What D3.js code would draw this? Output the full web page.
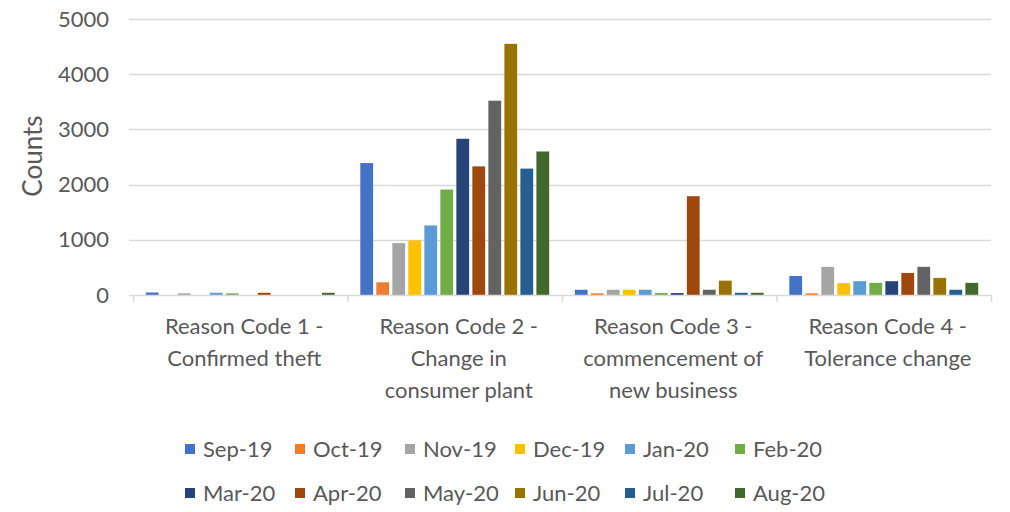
<!DOCTYPE html>
<html>
<head>
<meta charset="utf-8">
<script src="https://cdn.jsdelivr.net/npm/d3@7"></script>
<style>
  body { margin: 0; background: #fff; }
  svg text { font-family: Lato, "Open Sans", sans-serif; fill: #595959; }
</style>
</head>
<body>
<svg id="chart" width="1010" height="512"></svg>
<script>
// data ************************************************************
var categories = [
  ["Reason Code 1 -", "Confirmed theft"],
  ["Reason Code 2 -", "Change in", "consumer plant"],
  ["Reason Code 3 -", "commencement of", "new business"],
  ["Reason Code 4 -", "Tolerance change"]
];
var months = ["Sep-19", "Oct-19", "Nov-19", "Dec-19", "Jan-20", "Feb-20",
              "Mar-20", "Apr-20", "May-20", "Jun-20", "Jul-20", "Aug-20"];
var colors = ["#4472C4", "#ED7D31", "#A5A5A5", "#FFC000", "#5B9BD5", "#70AD47",
              "#264478", "#9E480E", "#636363", "#997300", "#255E91", "#43682B"];

// one array per month, one value per reason code
var sep19 = [45, 2390, 95, 345];
var oct19 = [0, 230, 30, 30];
var nov19 = [30, 940, 95, 510];
var dec19 = [0, 990, 95, 215];
var jan20 = [40, 1260, 95, 250];
var feb20 = [30, 1910, 35, 220];
var mar20 = [0, 2830, 35, 250];
var apr20 = [40, 2330, 1790, 400];
var may20 = [0, 3520, 95, 510];
var jun20 = [0, 4550, 260, 310];
var jul20 = [0, 2290, 40, 95];
var aug20 = [40, 2600, 40, 220];
var series = [sep19, oct19, nov19, dec19, jan20, feb20, mar20, apr20, may20, jun20, jul20, aug20];

var yTicks = [0, 1000, 2000, 3000, 4000, 5000];

// layout ************************************************************
var plotLeft = 133, plotRight = 991, plotTop = 19, plotBottom = 295;
var fontSize = 22;

var svg = d3.select("#chart");

var x0 = d3.scaleBand()
  .domain(d3.range(categories.length))
  .range([plotLeft, plotRight]);

var x1 = d3.scaleBand()
  .domain(d3.range(months.length))
  .range([0, x0.bandwidth()])
  .paddingInner(0.2)
  .paddingOuter(0.8);

var y = d3.scaleLinear()
  .domain([0, 5000])
  .range([plotBottom, plotTop]);

// gridlines
svg.append("g")
  .selectAll("line")
  .data(yTicks.slice(1))
  .enter()
  .append("line")
  .attr("x1", plotLeft - 4)
  .attr("x2", plotRight)
  .attr("y1", function(d) { return Math.round(y(d)) + 0.5; })
  .attr("y2", function(d) { return Math.round(y(d)) + 0.5; })
  .attr("stroke", "#d9d9d9")
  .attr("stroke-width", 1.5);

// y axis labels
var yAxis = svg.append("g")
  .attr("transform", "translate(" + plotLeft + ",0)")
  .call(d3.axisLeft(y).tickValues(yTicks).tickFormat(d3.format("d")).tickSize(0).tickPadding(24));
yAxis.select(".domain").remove();
yAxis.selectAll("text")
  .style("font-size", fontSize + "px")
  .attr("font-family", null)
  .attr("fill", null);

// bars
var groups = svg.append("g")
  .selectAll("g")
  .data(series)
  .enter()
  .append("g")
  .attr("fill", function(d, i) { return colors[i]; });

groups.selectAll("rect")
  .data(function(d, i) { return d.map(function(v, c) { return { m: i, c: c, v: v }; }); })
  .enter()
  .append("rect")
  .attr("x", function(d) { return x0(d.c) + x1(d.m); })
  .attr("width", x1.bandwidth())
  .attr("y", function(d) { return y(d.v); })
  .attr("height", function(d) { return plotBottom - y(d.v); });

// x axis line + ticks
var xAxis = svg.append("g");
xAxis.append("line")
  .attr("x1", plotLeft - 4).attr("x2", plotRight)
  .attr("y1", plotBottom + 0.5).attr("y2", plotBottom + 0.5)
  .attr("stroke", "#d9d9d9")
  .attr("stroke-width", 1.5);
xAxis.selectAll(".tick")
  .data(d3.range(categories.length + 1))
  .enter()
  .append("line")
  .attr("x1", function(d) { return plotLeft + d * x0.step() + 0.5; })
  .attr("x2", function(d) { return plotLeft + d * x0.step() + 0.5; })
  .attr("y1", plotBottom)
  .attr("y2", plotBottom + 7)
  .attr("stroke", "#d9d9d9")
  .attr("stroke-width", 1.5);

// category labels
var labels = xAxis.selectAll(".cat")
  .data(categories)
  .enter()
  .append("text")
  .attr("class", "cat")
  .attr("text-anchor", "middle")
  .style("font-size", fontSize + "px");
labels.selectAll("tspan")
  .data(function(d, i) { return d.map(function(s) { return { s: s, c: i }; }); })
  .enter()
  .append("tspan")
  .attr("x", function(d) { return x0(d.c) + x0.bandwidth() / 2 + 4; })
  .attr("y", function(d, j) { return 334 + j * 32; })
  .text(function(d) { return d.s; });

// y axis title
svg.append("text")
  .attr("transform", "translate(33,156) rotate(-90)")
  .attr("text-anchor", "middle")
  .attr("dy", "0.35em")
  .style("font-size", "26px")
  .text("Counts");

// legend ************************************************************
var legendX = 185, legendCol = 110, legendY = 449, legendRow = 44;
var legend = svg.append("g")
  .selectAll("g")
  .data(months)
  .enter()
  .append("g")
  .attr("transform", function(d, i) {
    return "translate(" + (legendX + (i % 6) * legendCol) + "," + (legendY + Math.floor(i / 6) * legendRow) + ")";
  });
legend.append("rect")
  .attr("x", 0).attr("y", -5)
  .attr("width", 10).attr("height", 10)
  .attr("fill", function(d, i) { return colors[i]; });
legend.append("text")
  .attr("x", 18)
  .attr("dy", "0.35em")
  .style("font-size", fontSize + "px")
  .text(function(d) { return d; });
</script>
</body>
</html>
